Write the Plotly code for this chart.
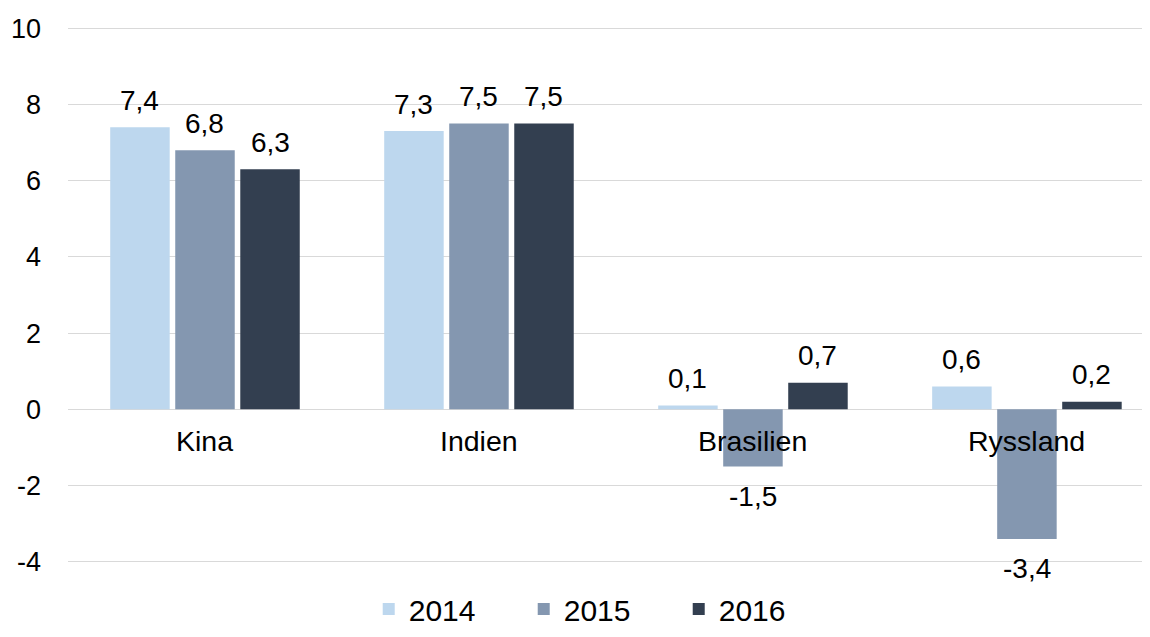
import plotly.graph_objects as go

categories = ["Kina", "Indien", "Brasilien", "Ryssland"]
years = ["2014", "2015", "2016"]
v2014 = [7.4, 7.3, 0.1, 0.6]
v2015 = [6.8, 7.5, -1.5, -3.4]
v2016 = [6.3, 7.5, 0.7, 0.2]
series = [v2014, v2015, v2016]
colors = ["#BDD7EE", "#8497B0", "#333F50"]
y_ticks = [-4, -2, 0, 2, 4, 6, 8, 10]

FONT = "Liberation Sans, Arial, sans-serif"

fig = go.Figure()
xs = list(range(len(categories)))
for name, vals, col in zip(years, series, colors):
    fig.add_trace(go.Bar(x=xs, y=vals, name=name, marker=dict(color=col, line=dict(width=0)),
                         hoverinfo="y"))

bargap = 0.288
groupgap = 0.085
slot = (1 - bargap) / 3
annotations = []
for i, vals in enumerate(series):
    for j, v in enumerate(vals):
        xpos = j + (i - 1) * slot
        annotations.append(dict(
            x=xpos, y=v, xref="x", yref="y", text=f"{v:.1f}".replace(".", ","),
            showarrow=False, yshift=27 if v >= 0 else -30,
            font=dict(family=FONT, size=28, color="#000000")))
for j, c in enumerate(categories):
    annotations.append(dict(x=j, y=0, xref="x", yref="y", text=c, showarrow=False,
                            yshift=-32, font=dict(family=FONT, size=28.5, color="#000000")))

fig.update_layout(
    width=1134, height=621,
    margin=dict(l=60, r=0, t=19, b=66, autoexpand=False),
    paper_bgcolor="white", plot_bgcolor="white",
    barmode="group", bargap=bargap, bargroupgap=groupgap,
    font=dict(family=FONT, size=27, color="#000000"),
    xaxis=dict(range=[-0.5, 3.42], showticklabels=False, showgrid=False, zeroline=False,
               showline=False, ticks="", automargin=False),
    yaxis=dict(range=[-4.03, 10.03], tickvals=y_ticks, ticktext=[str(t) for t in y_ticks],
               showgrid=True, gridcolor="#D9D9D9", gridwidth=1.3,
               zeroline=True, zerolinecolor="#D9D9D9", zerolinewidth=1.3,
               showline=False, ticks="", ticklabelstandoff=26, automargin=False,
               tickfont=dict(family=FONT, size=27, color="#000000")),
    legend=dict(orientation="h", x=0.280, xanchor="left", y=-0.086, yanchor="middle",
                font=dict(family=FONT, size=30, color="#000000"),
                entrywidth=110, entrywidthmode="pixels",
                itemwidth=30, tracegroupgap=0, traceorder="normal"),
    annotations=annotations,
)

fig.write_html("out.html")
